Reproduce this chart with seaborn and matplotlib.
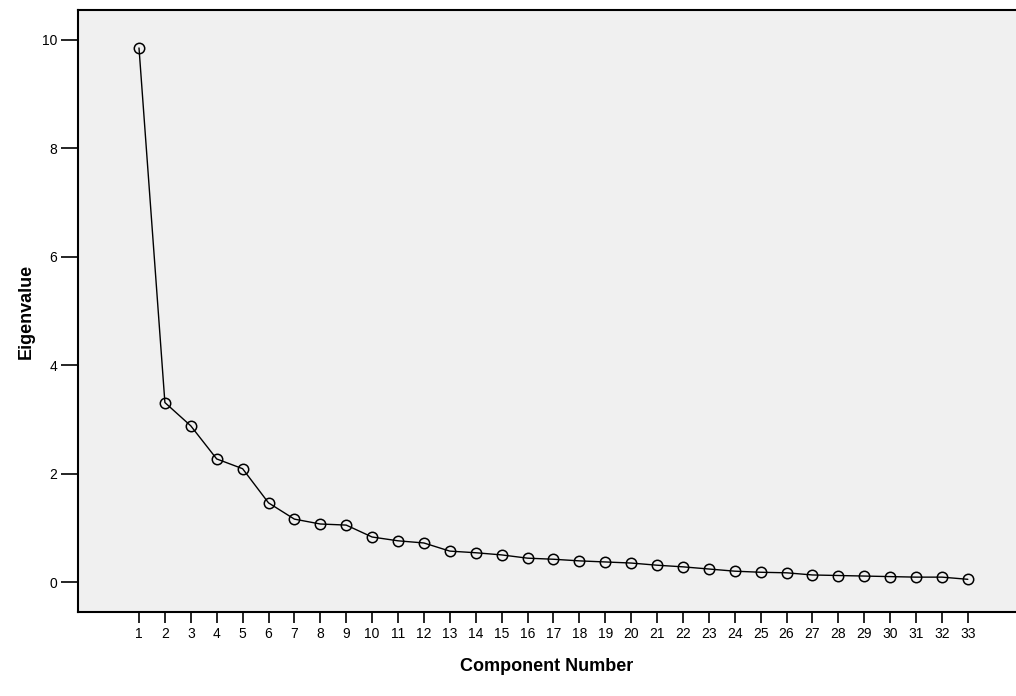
import matplotlib
matplotlib.use("Agg")
import matplotlib.pyplot as plt
import seaborn as sns
import pandas as pd

components = list(range(1, 34))
eigenvalues = [9.85, 3.31, 2.88, 2.27, 2.09, 1.46, 1.16, 1.07, 1.05, 0.83,
               0.76, 0.72, 0.57, 0.54, 0.50, 0.44, 0.42, 0.39, 0.37, 0.35,
               0.31, 0.28, 0.24, 0.20, 0.18, 0.17, 0.13, 0.12, 0.11, 0.10,
               0.09, 0.09, 0.05]
y_ticks = [0, 2, 4, 6, 8, 10]

df = pd.DataFrame({"Component Number": components, "Eigenvalue": eigenvalues})

sns.set_style("white")
plt.rcParams['font.family'] = ['Liberation Sans', 'DejaVu Sans']
plt.rcParams['text.color'] = 'black'
plt.rcParams['xtick.color'] = 'black'
plt.rcParams['ytick.color'] = 'black'
plt.rcParams['axes.labelcolor'] = 'black'

fig = plt.figure(figsize=(10.16, 6.96), dpi=100)
ax = fig.add_axes([78/1016, 1 - 612/696, 1 - 78/1016, (612 - 10)/696])
ax.set_facecolor("#f0f0f0")

sns.lineplot(data=df, x="Component Number", y="Eigenvalue", ax=ax,
             color="black", linewidth=1.0, marker="o", markersize=7.5,
             markerfacecolor="none", markeredgecolor="black", markeredgewidth=1.1)

ax.set_xlim(-1.355, 34.86)
ax.set_ylim(-0.553, 10.55)
ax.set_xticks(components)
ax.set_xticklabels([str(c) for c in components])
ax.set_yticks(y_ticks)
ax.set_yticklabels([str(t) for t in y_ticks])

for s in ["left", "bottom", "top"]:
    ax.spines[s].set_color("black")
    ax.spines[s].set_linewidth(1.5)
ax.spines["right"].set_visible(False)

ax.tick_params(axis="y", direction="out", length=12, width=1.2, labelsize=10, pad=3, left=True)
ax.tick_params(axis="x", direction="out", length=8, width=1.2, labelsize=10, pad=3, bottom=True)

ax.set_xlabel("Component Number", fontsize=13, fontweight="bold", labelpad=12)
ax.set_ylabel("Eigenvalue", fontsize=13, fontweight="bold", labelpad=5)

fig.savefig("out.png", dpi=100)
